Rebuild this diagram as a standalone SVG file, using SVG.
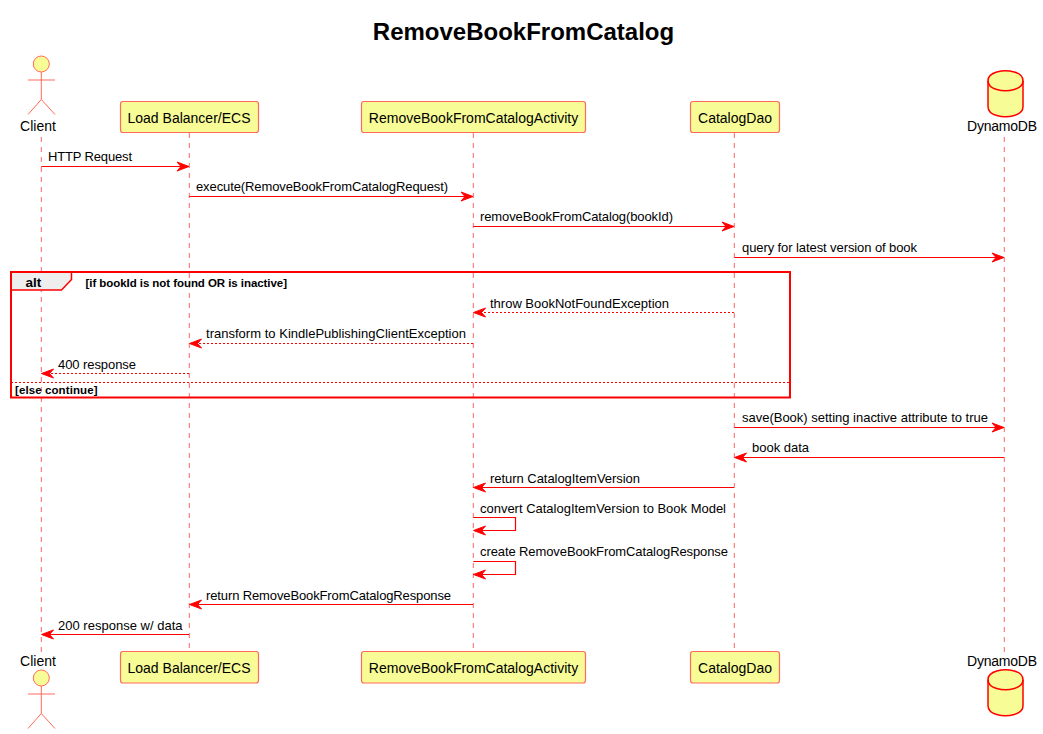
<svg xmlns="http://www.w3.org/2000/svg" width="1043" height="734" viewBox="0 0 1043 734">
<style>
text{font-family:"Liberation Sans",Arial,sans-serif;fill:#000}
.t{font-size:24px;font-weight:bold}
.n{font-size:14px}
.m{font-size:13px}
.b{font-size:11.500px;font-weight:bold}
.life{stroke:#ff6666;stroke-width:1;stroke-dasharray:5 5;fill:none}
.box{fill:#f7fc97;stroke:#ff6a5a;stroke-width:1.200}
.act{fill:#f7fc97;stroke:#ff6a5a;stroke-width:1}
.actl{stroke:#ff6a5a;stroke-width:1;fill:none}
.db{fill:#f7fc97;stroke:#ff0000;stroke-width:1.500}
.a{stroke:#ff0000;stroke-width:1.200;fill:none}
.d{stroke:#ff0000;stroke-width:1;stroke-dasharray:2 2;fill:none}
.h{fill:#ff0000;stroke:#ff0000;stroke-width:1}
.f{fill:none;stroke:#ff0000;stroke-width:2}
</style>
<defs>
<path id="ar" class="h" d="M0 0 L-12 -4.500 L-8 0 L-12 4.500 Z"/>
<path id="al" class="h" d="M0 0 L12 -4.500 L8 0 L12 4.500 Z"/>
<g id="actor"><circle class="act" cx="41.300" cy="8" r="8"/><path class="actl" d="M41.300 16V43.500M28 24H55M41.300 43.500L28 58.500M41.300 43.500L55 58.500"/></g>
<g id="cyl"><path class="db" d="M988 80.700C988 70.700 1005.500 70.700 1005.500 70.700C1005.500 70.700 1023 70.700 1023 80.700V106.700C1023 116.700 1005.500 116.700 1005.500 116.700C1005.500 116.700 988 116.700 988 106.700Z"/><path class="db" style="fill:none" d="M988 80.700C988 90.700 1005.500 90.700 1005.500 90.700C1005.500 90.700 1023 90.700 1023 80.700"/></g>
</defs>
<text class="t" x="523.500" y="40" text-anchor="middle">RemoveBookFromCatalog</text>
<g id="lifelines">
<path class="life" d="M41.300 137V652"/><path class="life" d="M189.300 133V652"/><path class="life" d="M473.300 133V652"/><path class="life" d="M734.300 133V652"/><path class="life" d="M1004.300 137V652"/>
</g>
<g id="client"><use href="#actor" y="56"/><text class="n" x="38" y="131" text-anchor="middle">Client</text></g>
<g id="lb"><rect class="box" x="120.500" y="101.500" width="138" height="31" rx="2.500"/><text class="n" x="189" y="123" text-anchor="middle">Load Balancer/ECS</text></g>
<g id="activity"><rect class="box" x="361.500" y="101.500" width="224" height="31" rx="2.500"/><text class="n" x="473.500" y="123" text-anchor="middle">RemoveBookFromCatalogActivity</text></g>
<g id="dao"><rect class="box" x="690.500" y="101.500" width="89" height="31" rx="2.500"/><text class="n" x="735" y="123" text-anchor="middle">CatalogDao</text></g>
<g id="dynamo"><use href="#cyl"/><text class="n" x="967" y="131" textLength="70">DynamoDB</text></g>
<g id="client-bottom"><use href="#actor" y="670"/><text class="n" x="38" y="666" text-anchor="middle">Client</text></g>
<g id="lb-bottom"><rect class="box" x="120.500" y="651.500" width="138" height="31.500" rx="2.500"/><text class="n" x="189" y="673" text-anchor="middle">Load Balancer/ECS</text></g>
<g id="activity-bottom"><rect class="box" x="361.500" y="651.500" width="224" height="31.500" rx="2.500"/><text class="n" x="473.500" y="673" text-anchor="middle">RemoveBookFromCatalogActivity</text></g>
<g id="dao-bottom"><rect class="box" x="690.500" y="651.500" width="89" height="31.500" rx="2.500"/><text class="n" x="735" y="673" text-anchor="middle">CatalogDao</text></g>
<g id="dynamo-bottom"><use href="#cyl" y="599"/><text class="n" x="967" y="666" textLength="70">DynamoDB</text></g>
<g id="alt-frame">
<path d="M11 272H71.500V279.500L61.500 290H11Z" fill="#eeeeee" stroke="#ff0000" stroke-width="1.500"/>
<rect class="f" x="11" y="272" width="779" height="125.500"/>
<path d="M11 382.500H790" stroke="#ff0000" stroke-width="1" stroke-dasharray="2 2" fill="none"/>
<text x="25.500" y="287" font-size="13.500" font-weight="bold">alt</text>
<text class="b" x="85.500" y="286.500" textLength="201.500">[if bookId is not found OR is inactive]</text>
<text class="b" x="15" y="394" textLength="82.500">[else continue]</text>
</g>
<g id="connectors">
<path class="a" d="M41.300 166.500H187"/><use href="#ar" x="189" y="166.500"/>
<path class="a" d="M189.300 196.500H471"/><use href="#ar" x="473" y="196.500"/>
<path class="a" d="M473.300 226.500H732"/><use href="#ar" x="734" y="226.500"/>
<path class="a" d="M734.300 257.500H1002"/><use href="#ar" x="1004" y="257.500"/>
<path class="d" d="M734 312.500H475.500"/><use href="#al" x="473.500" y="312.500"/>
<path class="d" d="M473 343.500H191.500"/><use href="#al" x="189.500" y="343.500"/>
<path class="d" d="M189 373.500H43.500"/><use href="#al" x="41.500" y="373.500"/>
<path class="a" d="M734.300 427.500H1002"/><use href="#ar" x="1004" y="427.500"/>
<path class="a" d="M1004 457.500H736.500"/><use href="#al" x="734.500" y="457.500"/>
<path class="a" d="M734 487.500H475.500"/><use href="#al" x="473.500" y="487.500"/>
<path class="a" d="M473.300 517.500H515.500V530.500H475.500"/><use href="#al" x="473.500" y="530.500"/>
<path class="a" d="M473.300 561.500H515.500V574.500H475.500"/><use href="#al" x="473.500" y="574.500"/>
<path class="a" d="M473 604.500H191.500"/><use href="#al" x="189.500" y="604.500"/>
<path class="a" d="M189 634.500H43.500"/><use href="#al" x="41.500" y="634.500"/>
</g>
<g id="labels">
<text class="m" x="48" y="161" textLength="84">HTTP Request</text>
<text class="m" x="196" y="191" textLength="252">execute(RemoveBookFromCatalogRequest)</text>
<text class="m" x="480" y="221" textLength="193">removeBookFromCatalog(bookId)</text>
<text class="m" x="742" y="252" textLength="175">query for latest version of book</text>
<text class="m" x="490" y="308" textLength="179">throw BookNotFoundException</text>
<text class="m" x="206" y="338" textLength="260">transform to KindlePublishingClientException</text>
<text class="m" x="58" y="369" textLength="78">400 response</text>
<text class="m" x="742" y="422" textLength="246">save(Book) setting inactive attribute to true</text>
<text class="m" x="752" y="452" textLength="57">book data</text>
<text class="m" x="490" y="483" textLength="150">return CatalogItemVersion</text>
<text class="m" x="480" y="513" textLength="246">convert CatalogItemVersion to Book Model</text>
<text class="m" x="480" y="556" textLength="248">create RemoveBookFromCatalogResponse</text>
<text class="m" x="206" y="600" textLength="245">return RemoveBookFromCatalogResponse</text>
<text class="m" x="58" y="630" textLength="124.500">200 response w/ data</text>
</g>
</svg>
